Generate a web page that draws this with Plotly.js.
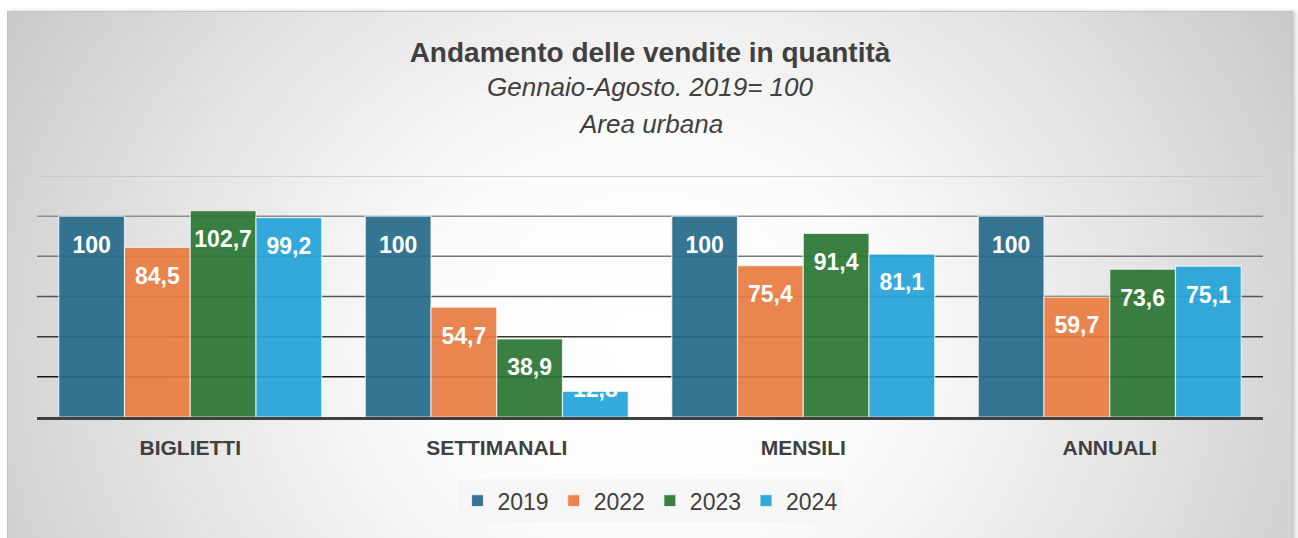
<!DOCTYPE html>
<html>
<head>
<meta charset="utf-8">
<script src="https://cdn.plot.ly/plotly-3.0.1.min.js"></script>
<style>
  html, body { margin:0; padding:0; background:#ffffff; width:1298px; height:538px; overflow:hidden; }
  #frame { position:absolute; left:7px; top:11px; width:1286px; height:540px;
           border:1px solid #c2c2c2; box-sizing:border-box;
           box-shadow: 3px 0 4px rgba(0,0,0,0.18);
           background: radial-gradient(ellipse 62% 130% at 50% 62%, #ffffff 0%, #fbfbfb 30%, #e2e2e2 65%, #c4c4c4 100%); }
  #chart { position:absolute; left:0; top:0; width:1298px; height:538px; }
</style>
</head>
<body>
<div id="frame"></div>
<div id="chart"></div>
<script>
// ---- data ----
const categories = ["BIGLIETTI", "SETTIMANALI", "MENSILI", "ANNUALI"];
const years = ["2019", "2022", "2023", "2024"];
const values2019 = [100, 100, 100, 100];
const values2022 = [84.5, 54.7, 75.4, 59.7];
const values2023 = [102.7, 38.9, 91.4, 73.6];
const values2024 = [99.2, 12.8, 81.1, 75.1];
const gridValues = [20, 40, 60, 80, 100, 120];

// ---- styles ----
const seriesValues = [values2019, values2022, values2023, values2024];
const colors = ["rgba(38,106,137,0.93)", "rgba(232,124,66,0.93)", "rgba(42,118,52,0.93)", "rgba(36,164,216,0.93)"];
const gridColors = ["#161616", "#353535", "#555555", "#777777", "#8e8e8e", "#c4c4c4"];
const fontFam = "Liberation Sans, Arial, sans-serif";
const fmt = v => v.toString().replace(".", ",");

const traces = [];
seriesValues.forEach((vals, i) => {
  traces.push({
    type: "bar", name: years[i], x: categories, y: vals,
    offsetgroup: String(i),
    marker: { color: colors[i], line: { color: "rgba(255,255,255,0.7)", width: 1.2 } },
    hoverinfo: "skip"
  });
});
seriesValues.forEach((vals, i) => {
  traces.push({
    type: "scatter", mode: "markers+text", x: categories, y: vals,
    offsetgroup: String(i), showlegend: false,
    marker: { size: 29, opacity: 0 },
    text: vals.map(fmt),
    textposition: vals.map(v => v < 20 ? "middle center" : "bottom center"),
    textfont: { family: fontFam, size: 23, color: "#ffffff", weight: "bold" },
    cliponaxis: false, hoverinfo: "skip"
  });
});

const shapes = gridValues.map((g, i) => ({
  type: "line", xref: "paper", yref: "y", x0: 0, x1: 1, y0: g, y1: g,
  line: { color: gridColors[i], width: 1.5 }, layer: "below"
}));

const layout = {
  width: 1298, height: 538,
  margin: { l: 37, r: 35, t: 176, b: 121 },
  paper_bgcolor: "rgba(0,0,0,0)", plot_bgcolor: "rgba(0,0,0,0)",
  barmode: "group", bargap: 0.142, bargroupgap: 0,
  scattermode: "group", scattergap: 0.142,
  title: {
    text: "<b>Andamento delle vendite in quantità</b>",
    font: { family: fontFam, size: 28, color: "#404040" },
    x: 0.5, xanchor: "center", xref: "paper", y: 1 - 52/538, yanchor: "middle"
  },
  annotations: [
    { text: "<i>Gennaio-Agosto. 2019= 100</i>", xref: "paper", yref: "paper", x: 0.5, y: (417-88)/240.5,
      xanchor: "center", yanchor: "middle", showarrow: false, font: { family: fontFam, size: 26, color: "#404040" } },
    { text: "<i>Area urbana</i>", xref: "paper", yref: "paper", x: 0.5, y: (417-125)/240.5,
      xanchor: "center", yanchor: "middle", showarrow: false, font: { family: fontFam, size: 26, color: "#404040" } }
  ],
  xaxis: {
    type: "category", showgrid: false, zeroline: false,
    showline: true, linecolor: "#404040", linewidth: 3,
    ticks: "", ticklabelstandoff: 10,
    tickfont: { family: fontFam, size: 21, color: "#404040", weight: "bold" },
    fixedrange: true
  },
  yaxis: {
    range: [0, 120], showgrid: false, zeroline: false, showticklabels: false,
    showline: false, ticks: "", fixedrange: true
  },
  shapes: shapes,
  showlegend: true,
  legend: {
    orientation: "h", x: 0.5, xanchor: "center", y: (417-479)/240.5, yanchor: "top",
    bgcolor: "#f6f6f6", font: { family: fontFam, size: 23, color: "#404040" },
    itemwidth: 30, traceorder: "normal"
  },
  hovermode: false
};

Plotly.newPlot("chart", traces, layout, { displayModeBar: false, staticPlot: true });
</script>
</body>
</html>
